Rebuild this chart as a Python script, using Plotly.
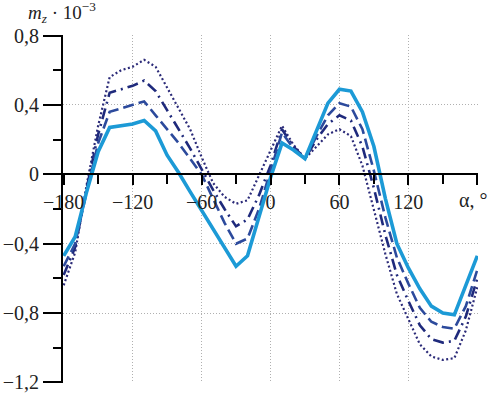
import plotly.graph_objects as go

alpha = [-180, -170, -160, -150, -140, -130, -120, -110, -100, -90, -80, -70, -60,
         -50, -40, -30, -20, -10, 0, 10, 20, 30, 40, 50, 60, 70, 80, 90, 100, 110,
         120, 130, 140, 150, 160, 170, 180]

mz_solid = [-0.47, -0.36, -0.10, 0.13, 0.27, 0.28, 0.29, 0.31, 0.25, 0.11, 0.01, -0.10, -0.21,
            -0.32, -0.43, -0.53, -0.47, -0.25, -0.02, 0.18, 0.14, 0.09, 0.25, 0.41, 0.49, 0.48,
            0.36, 0.16, -0.14, -0.40, -0.54, -0.66, -0.76, -0.80, -0.81, -0.64, -0.47]

mz_dash = [-0.53, -0.40, -0.10, 0.18, 0.36, 0.38, 0.40, 0.42, 0.34, 0.26, 0.18, 0.09, 0.00,
           -0.14, -0.28, -0.40, -0.37, -0.20, 0.02, 0.24, 0.15, 0.09, 0.22, 0.34, 0.41, 0.39,
           0.26, 0.02, -0.25, -0.48, -0.63, -0.77, -0.85, -0.88, -0.89, -0.76, -0.55]

mz_dashdot = [-0.58, -0.42, -0.08, 0.23, 0.47, 0.49, 0.51, 0.54, 0.48, 0.37, 0.26, 0.15, 0.03,
              -0.09, -0.20, -0.30, -0.26, -0.12, 0.05, 0.26, 0.16, 0.09, 0.20, 0.29, 0.34, 0.31,
              0.16, -0.08, -0.35, -0.58, -0.73, -0.87, -0.95, -0.97, -0.96, -0.82, -0.60]

mz_dot = [-0.64, -0.45, -0.06, 0.28, 0.56, 0.60, 0.62, 0.66, 0.62, 0.50, 0.38, 0.26, 0.10,
          -0.05, -0.13, -0.17, -0.15, -0.01, 0.13, 0.28, 0.17, 0.09, 0.16, 0.23, 0.26, 0.22,
          0.05, -0.20, -0.46, -0.69, -0.83, -0.98, -1.05, -1.07, -1.06, -0.90, -0.65]

x_tickvals = [-180, -120, -60, 0, 60, 120, 180]
x_ticktext = ["\u2212180", "\u2212120", "\u221260", "0", "60", "120", ""]
x_axis_label = "\u03b1, \u00b0"
y_tickvals = [0.8, 0.4, 0, -0.4, -0.8, -1.2]
y_ticktext = ["0,8", "0,4", "0", "\u22120,4", "\u22120,8", "\u22121,2"]

FONT = "Liberation Serif, Times New Roman, serif"

fig = go.Figure()
fig.add_trace(go.Scatter(x=alpha, y=mz_dot, mode="lines",
                         line=dict(color="#2b2a78", width=2.2, dash="2px,2.5px")))
fig.add_trace(go.Scatter(x=alpha, y=mz_dashdot, mode="lines",
                         line=dict(color="#1f2a7c", width=2.6, dash="11px,5px,2px,5px")))
fig.add_trace(go.Scatter(x=alpha, y=mz_dash, mode="lines",
                         line=dict(color="#2c4a9c", width=2.6, dash="11px,5px")))
fig.add_trace(go.Scatter(x=alpha, y=mz_solid, mode="lines",
                         line=dict(color="#1c9ad6", width=3.6)))

fig.update_layout(
    width=493, height=396,
    margin=dict(l=63, r=15, t=35, b=13, autoexpand=False),
    paper_bgcolor="white", plot_bgcolor="white",
    showlegend=False,
    font=dict(family=FONT, size=20, color="#222"),
    xaxis=dict(
        range=[-180.6, 180.6], anchor="free", position=0.6, automargin=False,
        tickmode="array", tickvals=x_tickvals, ticktext=x_ticktext,
        ticks="outside", ticklen=10, tickwidth=2, tickcolor="black",
        showline=True, linecolor="black", linewidth=2,
        showgrid=True, gridcolor="#b0b0b0", griddash="1px,2px", gridwidth=1.3,
        zeroline=False,
        minor=dict(tickmode="linear", tick0=0, dtick=30, ticks="outside", ticklen=9,
                   tickwidth=2, tickcolor="black", showgrid=False),
        tickfont=dict(family=FONT, size=20, color="#222"),
    ),
    yaxis=dict(
        range=[-1.203, 0.803], automargin=False,
        tickmode="array", tickvals=y_tickvals, ticktext=y_ticktext,
        ticks="outside", ticklen=18, tickwidth=2, tickcolor="black",
        showline=True, linecolor="black", linewidth=2,
        showgrid=True, gridcolor="#b0b0b0", griddash="1px,2px", gridwidth=1.3,
        zeroline=False,
        minor=dict(tickmode="linear", tick0=0, dtick=0.2, ticks="outside", ticklen=8,
                   tickwidth=2, tickcolor="black", showgrid=False),
        tickfont=dict(family=FONT, size=20, color="#222"),
    ),
    annotations=[
        dict(text="<i>m</i><sub><i>z</i></sub> \u00b7 10<sup>\u22123</sup>",
             xref="paper", yref="paper", x=-0.09, y=1.0, xanchor="left", yanchor="bottom",
             yshift=7, showarrow=False, font=dict(family=FONT, size=19, color="#222")),
        dict(text=x_axis_label, xref="x", yref="y", x=180, y=0,
             xanchor="center", yanchor="top", xshift=-4, yshift=-13,
             showarrow=False, font=dict(family=FONT, size=20, color="#222")),
    ],
)

fig.write_html(
    "out.html",
    config={"displayModeBar": False},
    post_script="document.body.style.margin='0px';document.body.style.overflow='hidden';",
)
